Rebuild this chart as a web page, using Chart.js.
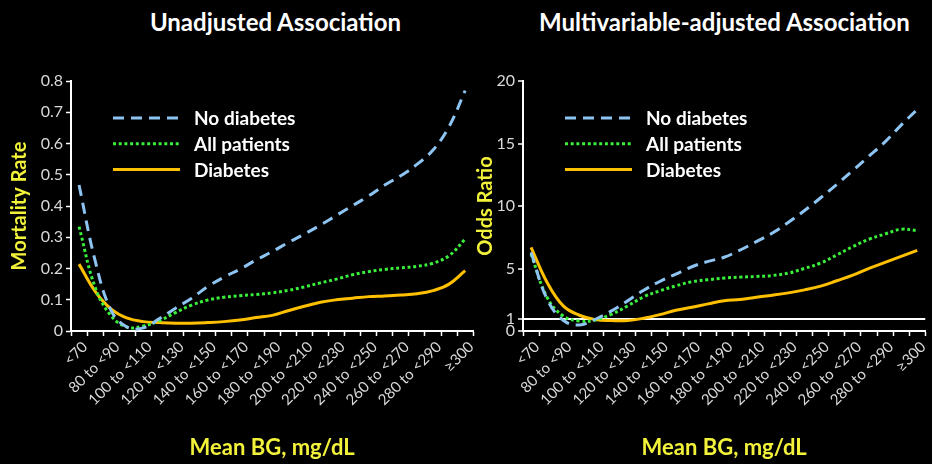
<!DOCTYPE html>
<html>
<head>
<meta charset="utf-8">
<script src="https://cdn.jsdelivr.net/npm/chart.js@4/dist/chart.umd.min.js"></script>
<style>
  html, body { margin: 0; padding: 0; background: #000; }
  body { width: 932px; height: 464px; position: relative; overflow: hidden; font-family: Lato, sans-serif; }
  .title { position: absolute; top: 7px; color: #fff; font: bold 24px/30px Lato, sans-serif; text-align: center; white-space: nowrap; }
  canvas { position: absolute; top: 0; }
</style>
</head>
<body>
<div class="title" style="left:0; width:551px;">Unadjusted Association</div>
<div class="title" style="left:500px; width:449px;">Multivariable-adjusted Association</div>
<canvas id="unadjustedChart" width="480" height="464" style="left:0"></canvas>
<canvas id="adjustedChart" width="462" height="464" style="left:470px"></canvas>
<script>
// Mean blood glucose categories (mg/dL); only every other one gets a label
const bgLabels = ['<70', '70 to <80', '80 to <90', '90 to <100', '100 to <110', '110 to <120',
    '120 to <130', '130 to <140', '140 to <150', '150 to <160', '160 to <170', '170 to <180',
    '180 to <190', '190 to <200', '200 to <210', '210 to <220', '220 to <230', '230 to <240',
    '240 to <250', '250 to <260', '260 to <270', '270 to <280', '280 to <290', '290 to <300', '≥300'];

const seriesNames = ['No diabetes', 'All patients', 'Diabetes'];

// Unadjusted mortality rate
const unadjNoDiabetes = [0.467, 0.225, 0.065, 0.012, 0.010, 0.040, 0.073, 0.105, 0.142, 0.172, 0.198, 0.227,
    0.254, 0.283, 0.310, 0.339, 0.370, 0.401, 0.432, 0.467, 0.497, 0.533, 0.579, 0.654, 0.769];
const unadjAll = [0.334, 0.140, 0.048, 0.012, 0.016, 0.033, 0.059, 0.083, 0.099, 0.108, 0.113, 0.117,
    0.122, 0.130, 0.141, 0.154, 0.166, 0.180, 0.190, 0.197, 0.202, 0.207, 0.217, 0.241, 0.294];
const unadjDiabetes = [0.214, 0.127, 0.070, 0.041, 0.030, 0.027, 0.025, 0.025, 0.027, 0.030, 0.035, 0.043,
    0.050, 0.065, 0.079, 0.092, 0.100, 0.105, 0.110, 0.112, 0.115, 0.119, 0.129, 0.150, 0.193];

// Multivariable-adjusted odds ratio
const adjNoDiabetes = [6.29, 2.54, 0.86, 0.48, 0.94, 1.61, 2.41, 3.26, 3.96, 4.55, 5.14, 5.57,
    5.90, 6.48, 7.15, 7.84, 8.70, 9.64, 10.66, 11.73, 12.85, 13.98, 15.13, 16.47, 17.72];
const adjAll = [6.16, 2.68, 1.20, 0.80, 0.88, 1.34, 2.00, 2.73, 3.21, 3.61, 3.94, 4.10,
    4.24, 4.31, 4.36, 4.44, 4.63, 5.01, 5.44, 6.08, 6.75, 7.34, 7.76, 8.14, 8.03];
const adjDiabetes = [6.69, 3.88, 2.01, 1.26, 0.91, 0.83, 0.83, 1.02, 1.31, 1.66, 1.90, 2.17,
    2.42, 2.52, 2.70, 2.86, 3.05, 3.29, 3.59, 4.02, 4.47, 5.01, 5.49, 5.97, 6.45];

const oddsTicks = [0, 1, 5, 10, 15, 20];

const tickColor = '#d9d9d9';
const yellow = '#f2f23a';
const lineStyles = [
    { color: '#8dc4f2', dash: [11, 7] },
    { color: '#39f03a', dash: [3, 2.7] },
    { color: '#ffc000', dash: [] }
];

// Legend drawn inside the plot area, top left
const insideLegend = {
    id: 'insideLegend',
    afterDraw(chart) {
        const { ctx, chartArea } = chart;
        ctx.save();
        chart.data.datasets.forEach((ds, i) => {
            const y = chartArea.top + 37 + i * 25.7;
            ctx.beginPath();
            ctx.strokeStyle = ds.borderColor;
            ctx.lineWidth = 3;
            ctx.setLineDash(ds.borderDash);
            ctx.moveTo(chartArea.left + 42, y);
            ctx.lineTo(chartArea.left + 109, y);
            ctx.stroke();
            ctx.setLineDash([]);
            ctx.fillStyle = '#fff';
            ctx.font = 'bold 19px Lato';
            ctx.textBaseline = 'middle';
            ctx.fillText(ds.label, chartArea.left + 123, y + 1);
        });
        ctx.restore();
    }
};

function makeDatasets(values) {
    return values.map((data, i) => ({
        label: seriesNames[i],
        data: data,
        borderColor: lineStyles[i].color,
        borderDash: lineStyles[i].dash,
        borderWidth: 3,
        borderCapStyle: 'butt',
        pointRadius: 0,
        tension: 0.4,
        fill: false
    }));
}

function makeChart(canvasId, values, yOpts, yWidth, rightPad) {
    const ctx = document.getElementById(canvasId).getContext('2d');
    return new Chart(ctx, {
        type: 'line',
        data: { labels: bgLabels, datasets: makeDatasets(values) },
        plugins: [insideLegend],
        options: {
            responsive: false,
            animation: false,
            layout: { padding: { top: 81, right: rightPad, bottom: 0, left: 0 } },
            plugins: { legend: { display: false }, tooltip: { enabled: false } },
            scales: {
                x: {
                    offset: true,
                    border: { color: '#fff', width: 2 },
                    grid: { offset: true, drawOnChartArea: false, tickLength: 5, tickColor: '#fff', tickWidth: 1.5 },
                    ticks: {
                        autoSkip: false,
                        maxRotation: 45,
                        minRotation: 45,
                        padding: 2,
                        labelOffset: 6,
                        color: tickColor,
                        font: { family: 'Lato', size: 15 },
                        callback: (val, i) => (i % 2 === 0 ? bgLabels[i] : '')
                    },
                    title: {
                        display: true,
                        text: 'Mean BG, mg/dL',
                        color: yellow,
                        font: { family: 'Lato', size: 22, weight: 'bold' },
                        padding: { top: 0, bottom: 3 }
                    },
                    afterFit: scale => { scale.height = 133; }
                },
                y: Object.assign({
                    border: { color: '#fff', width: 2 },
                    ticks: {
                        autoSkip: false,
                        padding: 3,
                        color: tickColor,
                        font: { family: 'Lato', size: 16 }
                    },
                    afterFit: scale => { scale.width = yWidth; }
                }, yOpts)
            }
        }
    });
}

Promise.all([
    document.fonts.load('bold 19px Lato'),
    document.fonts.load('16px Lato')
]).catch(() => {}).then(() => {
    makeChart('unadjustedChart', [unadjNoDiabetes, unadjAll, unadjDiabetes], {
        min: 0,
        max: 0.8,
        grid: { drawOnChartArea: false, tickLength: 5, tickColor: '#fff', tickWidth: 1.5 },
        ticks: { autoSkip: false, stepSize: 0.1, padding: 3, color: tickColor, font: { family: 'Lato', size: 16 } },
        title: {
            display: true,
            text: 'Mortality Rate',
            color: yellow,
            font: { family: 'Lato', size: 20, weight: 'bold' },
            padding: { top: 8, bottom: 0 }
        }
    }, 71, 5);

    makeChart('adjustedChart', [adjNoDiabetes, adjAll, adjDiabetes], {
        min: 0,
        max: 20,
        afterBuildTicks: scale => { scale.ticks = oddsTicks.map(v => ({ value: v })); },
        // only the reference line at an odds ratio of 1 is drawn across the plot
        grid: {
            color: c => (c.tick && c.tick.value === 1 ? '#fff' : 'rgba(0,0,0,0)'),
            lineWidth: 2,
            tickLength: 5,
            tickColor: '#fff',
            tickWidth: 1.5
        },
        title: {
            display: true,
            text: 'Odds Ratio',
            color: yellow,
            font: { family: 'Lato', size: 20, weight: 'bold' },
            padding: { top: 4, bottom: 0 }
        }
    }, 53, 2);
});
</script>
</body>
</html>
